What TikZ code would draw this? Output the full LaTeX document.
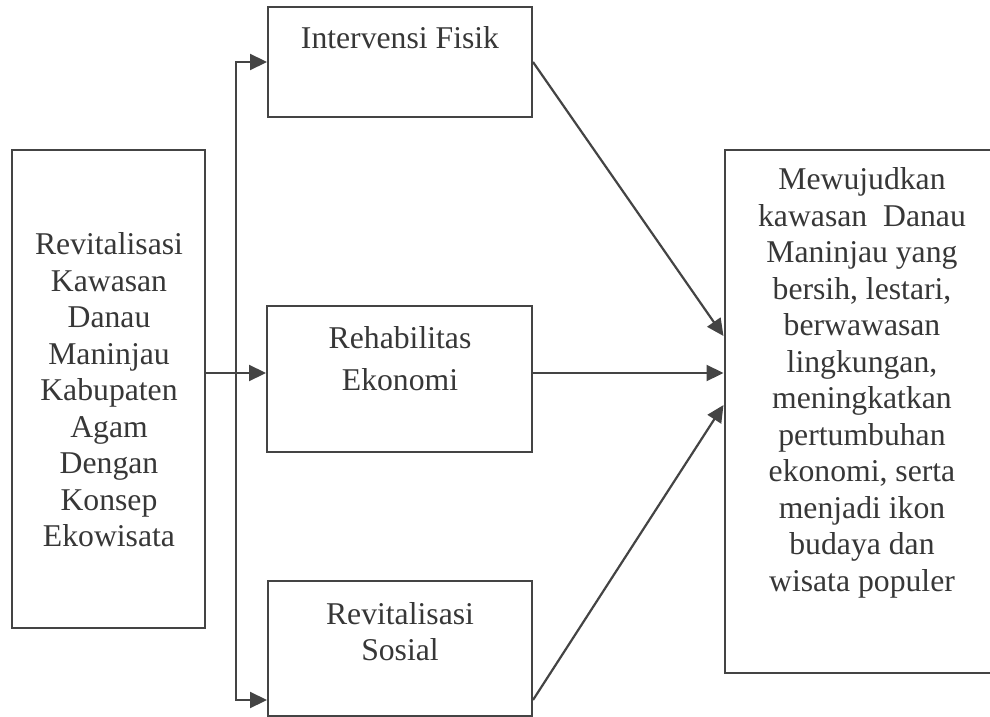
\documentclass[tikz,border=0pt]{standalone}
\usepackage{fontspec}
\setmainfont{Liberation Serif}
\usetikzlibrary{arrows.meta}
\definecolor{garis}{RGB}{68,68,68}
\definecolor{huruf}{RGB}{55,55,55}

\begin{document}
\begin{tikzpicture}[x=0.5pt,y=-0.5pt,
    kotak/.style={draw=garis,line width=1pt,inner sep=0pt},
    teks/.style={text=huruf,align=center,inner sep=0pt,font=\fontsize{15.85}{18.25}\selectfont},
    panah/.style={draw=garis,line width=1.1pt,-{Triangle[length=8.5pt,width=8pt]}}]
    \useasboundingbox (0,0) rectangle (990,717);
    \clip (0,0) rectangle (990,717);

    % kotak
    \node[kotak,minimum width=96.5pt,minimum height=239pt] (revit) at (108.5,389) {};
    \node[kotak,minimum width=132pt,minimum height=55pt] (fisik) at (400,62) {};
    \node[kotak,minimum width=132.5pt,minimum height=73pt] (ekonomi) at (399.5,379) {};
    \node[kotak,minimum width=132pt,minimum height=67.5pt] (sosial) at (400,648.5) {};
    \node[kotak,minimum width=137.5pt,minimum height=261.5pt] (tujuan) at (862,411.5) {};

    % teks
    \node[teks] (trevit) at (109,390) {Revitalisasi\\Kawasan\\Danau\\Maninjau\\Kabupaten\\Agam\\Dengan\\Konsep\\Ekowisata};
    \node[teks] (tfisik) at (400,38) {Intervensi Fisik};
    \node[teks,font=\fontsize{15.85}{21}\selectfont] (tekonomi) at (400,359) {Rehabilitas\\Ekonomi};
    \node[teks] (tsosial) at (400,631.5) {Revitalisasi\\Sosial};
    \node[teks] (ttujuan) at (862,383) {Mewujudkan\\kawasan\ \ Danau\\Maninjau yang\\bersih, lestari,\\berwawasan\\lingkungan,\\meningkatkan\\pertumbuhan\\ekonomi, serta\\menjadi ikon\\budaya dan\\wisata populer};

    % panah
    \coordinate (bus) at (236,373);
    \draw[draw=garis,line width=1.1pt] (revit.east |- bus) -- (bus);
    \draw[panah] (bus) -- (ekonomi.west |- bus);
    \draw[panah] (bus) |- (fisik.west);
    \draw[panah] (bus) |- ([yshift=8.5pt]sosial.south west);
    \draw[panah] (fisik.east) -- ([yshift=37.75pt]tujuan.west);
    \draw[panah] (ekonomi.east |- bus) -- (tujuan.west |- bus);
    \draw[panah] ([yshift=8.5pt]sosial.south east) -- ([yshift=3.25pt]tujuan.west);
\end{tikzpicture}
\end{document}
